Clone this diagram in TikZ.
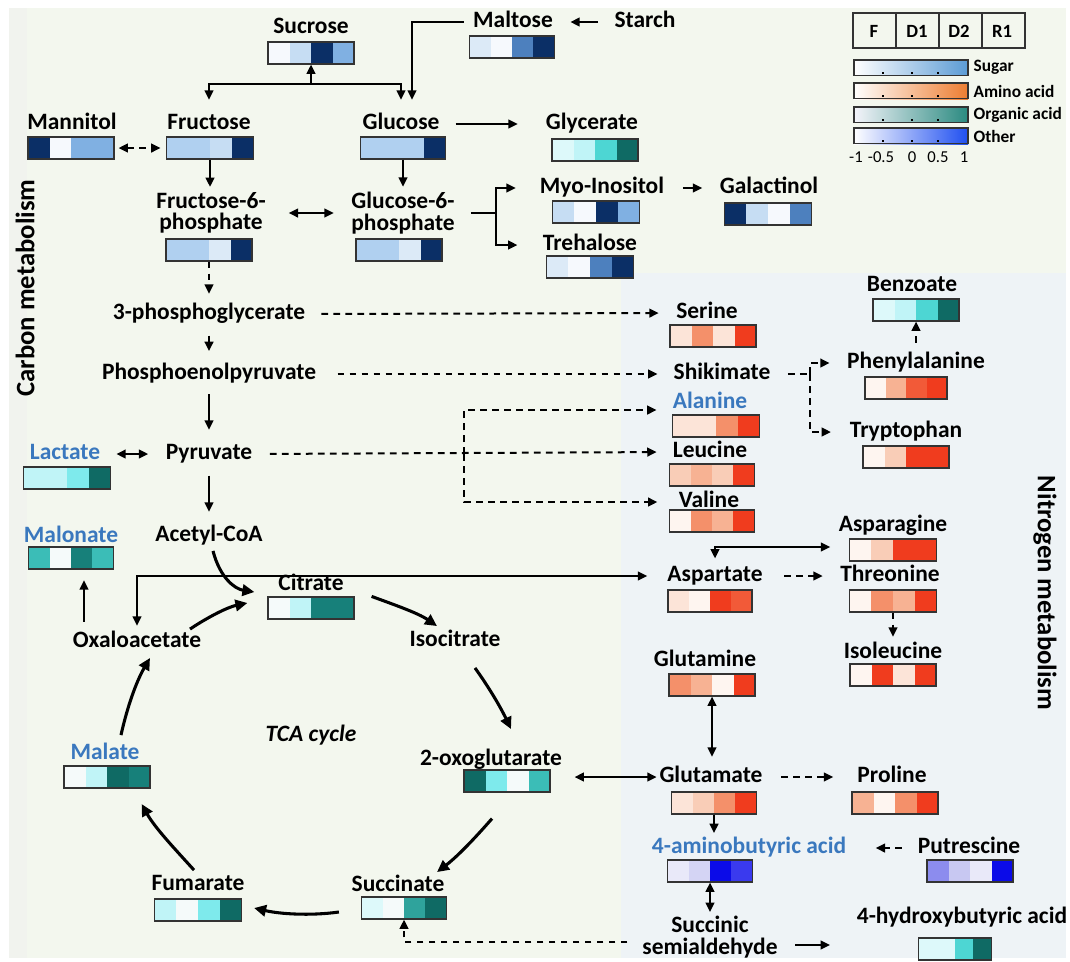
\documentclass[tikz,border=0pt]{standalone}
\usepackage{fontspec}
\setmainfont{Carlito}
\usetikzlibrary{arrows.meta,calc}
% sugar
\definecolor{s0}{HTML}{F6F9FD}\definecolor{s1}{HTML}{DCEAF7}\definecolor{s2}{HTML}{C6DDF3}
\definecolor{s3}{HTML}{B0D0F0}\definecolor{s4}{HTML}{80B0E2}\definecolor{s5}{HTML}{4D80BE}
\definecolor{s6}{HTML}{0B2F66}
% amino
\definecolor{a0}{HTML}{FEF5F0}\definecolor{a1}{HTML}{FCE4D8}\definecolor{a2}{HTML}{F9CDB7}
\definecolor{a3}{HTML}{F7B293}\definecolor{a4}{HTML}{F4906A}\definecolor{a5}{HTML}{F25A38}
\definecolor{a6}{HTML}{F03C1E}
% organic
\definecolor{o0}{HTML}{F5FAFA}\definecolor{o1}{HTML}{DDF9FA}\definecolor{o2}{HTML}{C0F4F7}
\definecolor{o3}{HTML}{7EEAEC}\definecolor{o4}{HTML}{4DD6D3}\definecolor{o5}{HTML}{2FA39C}
\definecolor{o5m}{HTML}{3BBDB7}\definecolor{o6}{HTML}{17807A}\definecolor{o7}{HTML}{0F6A64}
% other
\definecolor{p0}{HTML}{E9E9F9}\definecolor{p1}{HTML}{D4D4F4}\definecolor{p2}{HTML}{C8C8F2}
\definecolor{p3}{HTML}{8C8CEE}\definecolor{p4}{HTML}{3A3AEE}\definecolor{p5}{HTML}{0B0BE8}
% misc
\definecolor{labblue}{HTML}{3A78BE}
\definecolor{bgc}{HTML}{F3F7EE}\definecolor{bgstrip}{HTML}{F1F3EE}\definecolor{bgn}{HTML}{EEF3F6}
\definecolor{hmline}{HTML}{333333}

\newcommand\hmap[8][85]{%
  \foreach \cc [count=\ii from 0] in {#5,#6,#7,#8}{%
    \fill[\cc] ({#3-#1/2+\ii*#1/4},{#4-11}) rectangle ++({#1/4},22);}
  \node[hmb=#1] (#2) at (#3,#4) {};}

\begin{document}
\begin{tikzpicture}[x=0.75pt,y=-0.75pt,
  lab/.style={font=\fontsize{17.6}{18}\selectfont\bfseries, inner sep=1pt, text height=11pt, text depth=3pt},
  blab/.style={lab, text=labblue},
  lab2/.style={font=\fontsize{17.6}{16}\selectfont\bfseries, inner sep=1pt, align=center},
  hmb/.style={draw=hmline, line width=0.9pt, minimum width=#1*0.75pt, minimum height=16.5pt, inner sep=0pt},
  legf/.style={font=\fontsize{13}{14}\selectfont\bfseries, inner sep=1pt},
  legh/.style={font=\fontsize{14}{15}\selectfont\bfseries, inner sep=1pt},
  vlab/.style={font=\fontsize{20}{22}\selectfont\bfseries, inner sep=1pt},
  ln/.style={line width=1.5pt},
  ar/.style={line width=1.5pt, -{Triangle[length=7pt,width=6.5pt]}},
  ar2/.style={line width=1.5pt, {Triangle[length=7pt,width=6.5pt]}-{Triangle[length=7pt,width=6.5pt]}},
  dsh/.style={dash pattern=on 5pt off 4pt},
  tar/.style={line width=2.3pt, -{Triangle[length=9pt,width=8.5pt]}}
]
\useasboundingbox (0,0) rectangle (1070,961);
% backgrounds
\fill[white] (0,0) rectangle (1070,961);
\fill[bgc] (9,8) rectangle (1066,958);
\fill[bgstrip] (9,8) rectangle (27,958);
\fill[bgn] (621,273) rectangle (1066,958);

% side labels
\node[vlab, rotate=90] (carbonlab) at (25,288) {Carbon metabolism};
\node[vlab, rotate=-90] (nitrolab) at (1045,593) {Nitrogen metabolism};

% ---------- legend ----------
\node[draw=hmline, line width=1pt, minimum width=172*0.75pt, minimum height=35*0.75pt, inner sep=0pt] (legbox) at (939,30.5) {};
\draw[hmline, line width=1pt] (896,13) -- (896,48) (939,13) -- (939,48) (982,13) -- (982,48);
\node[legh] (legF) at (874,31) {F};
\node[legh] (legD1) at (917,31) {D1};
\node[legh] (legD2) at (959,31) {D2};
\node[legh] (legR1) at (1002,31) {R1};
\shade[left color=white, right color={rgb,255:red,91;green,155;blue,213}] (854,60) rectangle (968,75);
\shade[left color=white, right color={rgb,255:red,237;green,125;blue,49}] (854,83) rectangle (968,99);
\shade[left color={rgb,255:red,244;green,244;blue,250}, middle color={rgb,255:red,100;green,222;blue,214}, right color={rgb,255:red,42;green,138;blue,128}] (854,107) rectangle (968,122);
\shade[left color=white, middle color={rgb,255:red,170;green,160;blue,240}, right color={rgb,255:red,31;green,79;blue,240}] (854,128) rectangle (968,144);
\foreach \yy in {60,83,107,128}{
  \draw[hmline, line width=0.9pt] (854,\yy) rectangle (968,\yy+15.5);
  \foreach \xx in {883,912,938} \fill[black] (\xx-1.2,\yy+11.5) rectangle ++(2.4,2.4);
}
\node[legf, anchor=west] (lsugar) at (972,67.5) {Sugar};
\node[legf, anchor=west] (lamino) at (972,91) {Amino acid};
\node[legf, anchor=west] (lorg) at (972,114.5) {Organic acid};
\node[legf, anchor=west] (lother) at (972,136) {Other};
\node[font=\fontsize{12.5}{13}\selectfont, inner sep=0pt] (t1) at (856,157) {-1};
\node[font=\fontsize{12.5}{13}\selectfont, inner sep=0pt] (t2) at (881,157) {-0.5};
\node[font=\fontsize{12.5}{13}\selectfont, inner sep=0pt] (t3) at (912,157) {0};
\node[font=\fontsize{12.5}{13}\selectfont, inner sep=0pt] (t4) at (938,157) {0.5};
\node[font=\fontsize{12.5}{13}\selectfont, inner sep=0pt] (t5) at (964,157) {1};

% ---------- labels ----------
\node[lab] (sucrose) at (311,28) {Sucrose};
\node[lab] (maltose) at (513,22) {Maltose};
\node[lab] (starch) at (645,22) {Starch};
\node[lab] (mannitol) at (72,124) {Mannitol};
\node[lab] (fructose) at (209,124) {Fructose};
\node[lab] (glucose) at (401,124) {Glucose};
\node[lab] (glycerate) at (592,124) {Glycerate};
\node[lab2] (f6p) at (211,213) {Fructose-6-\\phosphate};
\node[lab2] (g6p) at (403,213) {Glucose-6-\\phosphate};
\node[lab] (myo) at (602,188) {Myo-Inositol};
\node[lab] (galactinol) at (769,188) {Galactinol};
\node[lab] (trehalose) at (590,245) {Trehalose};
\node[lab] (pga) at (209,314) {3-phosphoglycerate};
\node[lab] (pep) at (209,374) {Phosphoenolpyruvate};
\node[lab] (pyruvate) at (209,454) {Pyruvate};
\node[blab] (lactate) at (65,454) {Lactate};
\node[lab] (acetyl) at (209,536) {Acetyl-CoA};
\node[blab] (malonate) at (71,537) {Malonate};
\node[lab] (citrate) at (311,585) {Citrate};
\node[lab] (oxalo) at (137,642) {Oxaloacetate};
\node[lab] (isocitrate) at (455,641) {Isocitrate};
\node[lab] (oxoglu) at (491,760) {2-oxoglutarate};
\node[lab] (succinate) at (398,886) {Succinate};
\node[lab] (fumarate) at (198,885) {Fumarate};
\node[blab] (malate) at (105,754) {Malate};
\node[lab, font=\fontsize{17.6}{18}\selectfont\bfseries\itshape] (tca) at (311,736) {TCA cycle};
\node[lab] (serine) at (707,313) {Serine};
\node[lab] (shikimate) at (722,374) {Shikimate};
\node[blab] (alanine) at (710,403) {Alanine};
\node[lab] (leucine) at (710,452) {Leucine};
\node[lab] (valine) at (709,502) {Valine};
\node[lab] (benzoate) at (912,286) {Benzoate};
\node[lab] (phe) at (916,363) {Phenylalanine};
\node[lab] (trp) at (906,432) {Tryptophan};
\node[lab] (asparagine) at (893,526) {Asparagine};
\node[lab] (aspartate) at (715,576) {Aspartate};
\node[lab] (threonine) at (890,576) {Threonine};
\node[lab] (isoleucine) at (893,653) {Isoleucine};
\node[lab] (glutamine) at (705,661) {Glutamine};
\node[lab] (glutamate) at (711,777) {Glutamate};
\node[lab] (proline) at (892,777) {Proline};
\node[blab] (gaba) at (749,848) {4-aminobutyric acid};
\node[lab] (putrescine) at (969,848) {Putrescine};
\node[lab2] (ssa) at (710,937) {Succinic\\semialdehyde};
\node[lab] (hba) at (962,918) {4-hydroxybutyric acid};

% ---------- heatmaps ----------
\hmap[86]{sucroseb}{311}{53}{s0}{s2}{s6}{s4}
\hmap[85]{maltoseb}{512}{47}{s1}{s0}{s5}{s6}
\hmap[86]{mannitolb}{71}{148}{s6}{s0}{s4}{s4}
\hmap[87]{fructoseb}{210}{148}{s3}{s3}{s2}{s6}
\hmap[85]{glucoseb}{403}{148}{s3}{s3}{s3}{s6}
\hmap[86]{glycerateb}{595}{150}{o1}{o2}{o4}{o7}
\hmap[86]{f6pb}{209}{250}{s3}{s3}{s1}{s6}
\hmap[86]{g6pb}{399}{250}{s3}{s3}{s1}{s6}
\hmap[87]{myob}{596}{212}{s2}{s0}{s6}{s4}
\hmap[87]{galactinolb}{768}{214}{s6}{s2}{s0}{s5}
\hmap[87]{trehaloseb}{590}{267}{s1}{s0}{s5}{s6}
\hmap[87]{lactateb}{67}{478}{o2}{o2}{o3}{o7}
\hmap[85]{malonateb}{71}{558}{o5m}{o0}{o6}{o5m}
\hmap[86]{citrateb}{311}{608}{o0}{o2}{o6}{o6}
\hmap[86]{malateb}{107}{777}{o0}{o2}{o7}{o6}
\hmap[86]{oxoglub}{507}{781}{o7}{o3}{o0}{o5m}
\hmap[85]{succinateb}{404}{908}{o1}{o0}{o5}{o7}
\hmap[87]{fumarateb}{198}{910}{o2}{o0}{o3}{o7}
\hmap[86]{serineb}{713}{336}{a1}{a4}{a1}{a6}
\hmap[87]{alanineb}{716}{426}{a1}{a1}{a4}{a6}
\hmap[85]{leucineb}{712}{475}{a2}{a3}{a2}{a6}
\hmap[85]{valineb}{712}{521}{a0}{a4}{a3}{a6}
\hmap[86]{benzoateb}{916}{310}{o1}{o2}{o4}{o7}
\hmap[82]{pheb}{906}{388}{a0}{a3}{a5}{a6}
\hmap[86]{trpb}{906}{457}{a0}{a2}{a6}{a6}
\hmap[87]{asparagineb}{893}{550}{a0}{a2}{a6}{a6}
\hmap[84]{aspartateb}{710}{601}{a1}{a0}{a6}{a5}
\hmap[87]{threonineb}{893}{601}{a0}{a4}{a3}{a6}
\hmap[86]{isoleucineb}{893}{675}{a0}{a6}{a1}{a6}
\hmap[86]{glutamineb}{712}{685}{a4}{a3}{a0}{a6}
\hmap[85]{glutamateb}{714}{803}{a1}{a2}{a4}{a6}
\hmap[86]{prolineb}{895}{803}{a3}{a0}{a4}{a6}
\hmap[85]{gabab}{710}{871}{p0}{p1}{p5}{p4}
\hmap[86]{putrescineb}{970}{871}{p3}{p2}{p0}{p5}
\hmap[73]{hbab}{955}{949}{o1}{o1}{o4}{o7}

% ---------- connectors: carbon part ----------
\draw[ar, shorten <=11pt, shorten >=12pt] (starch.west) -- (maltose.east);
\draw[ar, shorten <=6pt, shorten >=10pt] (maltose.west) -| ($(glucose.north)+(11,0)$);
\coordinate (jS) at (311,84);
\draw[ar] (jS) -- (sucroseb.south);
\draw[ar, shorten >=10pt] (jS) -| (fructose.north);
\draw[ar, shorten >=10pt] (jS) -| (glucose.north);
\draw[ar2, dsh, shorten <=3pt, shorten >=4pt] (mannitolb.east) -- (fructoseb.west);
\draw[ar, shorten <=11pt, shorten >=20pt] (glucose.east) -- (glycerate.west);
\draw[ar, shorten >=3pt] (fructoseb.south) -- (fructoseb.south |- f6p.north);
\draw[ar, shorten >=3pt] (glucoseb.south) -- (glucoseb.south |- g6p.north);
\draw[ar2, shorten <=16pt, shorten >=12pt] (f6p.east) -- (g6p.west);
\coordinate (jG) at (496,213);
\draw[ln, shorten <=11pt] (g6p.east) -- (jG);
\draw[ar, shorten >=17pt] (jG) |- (myo.west);
\draw[ar, shorten >=18pt] (jG) |- (trehalose.west);
\draw[ar, shorten <=13pt, shorten >=12pt] (myo.east) -- (galactinol.west);

\draw[ar, dsh, shorten >=7pt] (f6pb.south) -- (pga.north);
\draw[ar, shorten <=8pt, shorten >=9pt] (pga.south) -- (pep.north);
\draw[ar, shorten <=7pt, shorten >=10pt] (pep.south) -- (pyruvate.north);
\draw[ar, shorten <=8pt, shorten >=10pt] (pyruvate.south) -- (acetyl.north);
\draw[ar2, shorten <=11pt, shorten >=12pt] (lactate.east) -- (pyruvate.west);
\draw[ar, shorten <=7pt, shorten >=8pt] ($(oxalo.north)+(-53,0)$) -- ($(malonateb.south)+(13,0)$);

\draw[ar, dsh, shorten <=11pt, shorten >=12pt] (pga.east) -- (serine.west);
\draw[ar, dsh, shorten <=15pt, shorten >=11pt] (pep.east) -- (shikimate.west);
\draw[ar, dsh, shorten <=12pt, shorten >=11pt] (pyruvate.east) -- (leucine.west);
\coordinate (jB) at (464,454);
\draw[ar, dsh, shorten >=11pt] (jB) |- ($(alanine.west)+(0,7)$);
\draw[ar, dsh, shorten >=15pt] (jB) |- (valine.west);

% ---------- connectors: nitrogen part ----------
\draw[ar, dsh, shorten <=7pt] (phe.north) -- (benzoateb.south);
\coordinate (jK) at (810,374);
\draw[ln, dsh, shorten <=12pt] (shikimate.east) -- (jK);
\draw[ar, dsh, shorten >=12pt] (jK) |- (phe.west);
\draw[ar, dsh, shorten >=13pt] (jK) |- (trp.west);
\draw[ar2, shorten <=14pt, shorten >=5pt] ($(asparagineb.west)+(0,-3)$) -| (aspartate.north);
\draw[ar2, shorten <=4pt, shorten >=14pt] (oxalo.north) |- (aspartate.west);
\draw[ar, dsh, shorten <=15pt, shorten >=12pt] (aspartate.east) -- (threonine.west);
\draw[ar, dsh, shorten >=4pt] (threonineb.south) -- (isoleucine.north);
\draw[ar2, shorten >=7pt] (glutamineb.south) -- (glutamineb.south |- glutamate.north);
\draw[ar2, shorten <=18pt, shorten >=1pt] (oxoglub.east |- glutamate.west) -- (glutamate.west);
\draw[ar, dsh, shorten <=13pt, shorten >=17pt] (glutamate.east) -- (proline.west);
\draw[ar, shorten >=3pt] (glutamateb.south) -- (glutamateb.south |- gaba.north);
\draw[ar, dsh, shorten <=11pt, shorten >=21pt] (putrescine.west) -- (gaba.east);
\draw[ar2, shorten >=2pt] (gabab.south) -- (gabab.south |- ssa.north);
\draw[ar, shorten <=12pt, shorten >=19pt] ($(ssa.east)+(0,8)$) -- ($(hba.west)+(0,27)$);
\draw[ar, dsh, shorten <=10pt] ($(ssa.west)+(0,5)$) -| (succinateb.south);

% ---------- TCA cycle ----------
\draw[tar] ($(acetyl.south)+(4,4)$) .. controls (220,578) and (235,589) .. ($(citrateb.west)+(-13,-16)$);
\draw[tar] ($(oxalo.north)+(53,-2)$) .. controls (208,617) and (228,607) .. ($(citrateb.west)+(-20,-5)$);
\draw[tar] ($(citrateb.north east)+(17,0)$) .. controls (395,605) and (418,613) .. ($(isocitrate.north)+(-18,-4)$);
\draw[tar] ($(isocitrate.south)+(20,16)$) .. controls (488,686) and (500,706) .. ($(oxoglu.north)+(20,-20)$);
\draw[tar] ($(oxoglub.south)+(-15,26)$) .. controls (475,838) and (458,856) .. ($(succinate.north)+(39,-3)$);
\draw[tar] ($(succinateb.west)+(-22,4)$) .. controls (310,916) and (280,914) .. ($(fumarateb.east)+(12,-2)$);
\draw[tar] ($(fumarate.north)+(-4,-4)$) .. controls (175,849) and (155,828) .. ($(malateb.east)+(-9,27)$);
\draw[tar] ($(malate.north)+(16,-8)$) .. controls (127,708) and (136,682) .. ($(oxalo.south)+(13,5)$);
\end{tikzpicture}
\end{document}
